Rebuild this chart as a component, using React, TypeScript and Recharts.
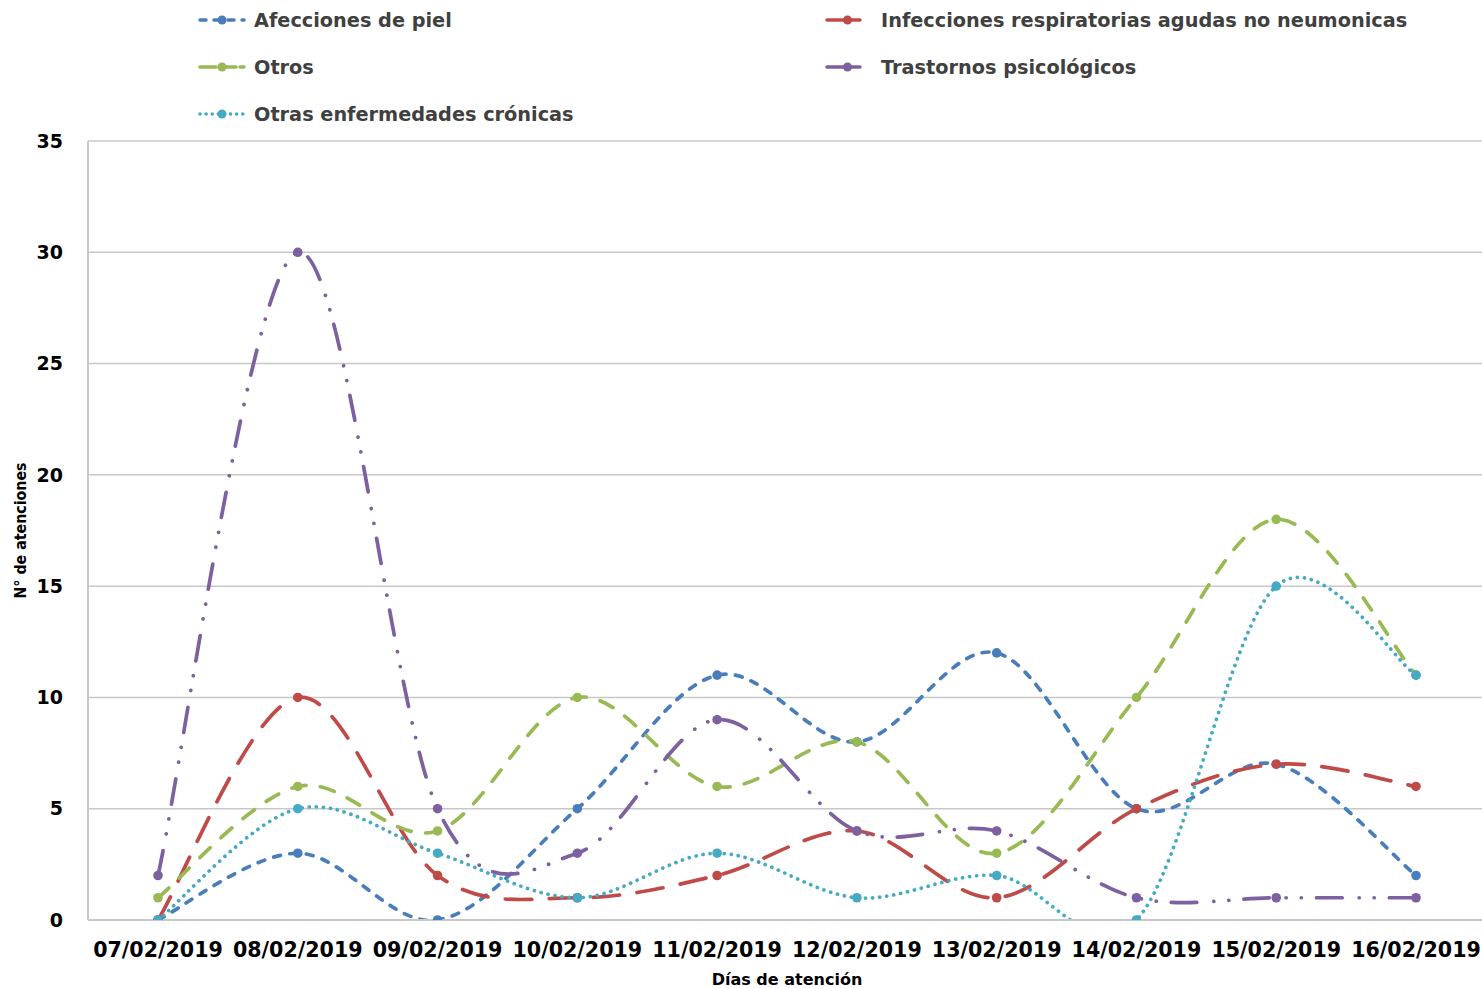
import React from 'react';
import { LineChart, Line, XAxis, YAxis, CartesianGrid, Legend } from 'recharts';

const dates = ['07/02/2019', '08/02/2019', '09/02/2019', '10/02/2019', '11/02/2019', '12/02/2019', '13/02/2019', '14/02/2019', '15/02/2019', '16/02/2019'];
const afeccionesPiel = [0, 3, 0, 5, 11, 8, 12, 5, 7, 2];
const infeccionesResp = [0, 10, 2, 1, 2, 4, 1, 5, 7, 6];
const otros = [1, 6, 4, 10, 6, 8, 3, 10, 18, 11];
const trastornosPsic = [2, 30, 5, 3, 9, 4, 4, 1, 1, 1];
const otrasCronicas = [0, 5, 3, 1, 3, 1, 2, 0, 15, 11];
const yTicks = [0, 5, 10, 15, 20, 25, 30, 35];

const data = dates.map((d, i) => ({
  date: d,
  afecciones: afeccionesPiel[i],
  infecciones: infeccionesResp[i],
  otros: otros[i],
  trastornos: trastornosPsic[i],
  cronicas: otrasCronicas[i],
}));

const SERIES = [
  { key: 'afecciones', name: 'Afecciones de piel', color: '#4A7EBB', dash: '7 9.5', legendDash: '6 8', solidLegend: false },
  { key: 'infecciones', name: 'Infecciones respiratorias agudas no neumonicas', color: '#BE4B48', dash: '26.5 17.5', legendDash: '', solidLegend: true },
  { key: 'otros', name: 'Otros', color: '#98B954', dash: '14.5 14.5', legendDash: '16 4', solidLegend: false },
  { key: 'trastornos', name: 'Trastornos psicológicos', color: '#7D60A0', dash: '25.5 17 0.1 15 0.1 15', legendDash: '', solidLegend: true },
  { key: 'cronicas', name: 'Otras enfermedades crónicas', color: '#46AAC5', dash: '0.1 7', legendDash: '0.1 6', solidLegend: false },
];

// Excel-like smoothed line (Catmull-Rom style Bezier)
function excelSmooth(context: any) {
  let pts: number[][] = [];
  return {
    areaStart() {},
    areaEnd() {},
    lineStart() {
      pts = [];
    },
    lineEnd() {
      const n = pts.length;
      if (n === 0) return;
      context.moveTo(pts[0][0], pts[0][1]);
      for (let i = 0; i < n - 1; i++) {
        const p0 = pts[Math.max(i - 1, 0)];
        const p1 = pts[i];
        const p2 = pts[i + 1];
        const p3 = pts[Math.min(i + 2, n - 1)];
        const t = 1 / 6;
        context.bezierCurveTo(
          p1[0] + (p2[0] - p0[0]) * t,
          p1[1] + (p2[1] - p0[1]) * t,
          p2[0] - (p3[0] - p1[0]) * t,
          p2[1] - (p3[1] - p1[1]) * t,
          p2[0],
          p2[1]
        );
      }
    },
    point(x: number, y: number) {
      pts.push([+x, +y]);
    },
  };
}

const FONT = '"DejaVu Sans", Verdana, sans-serif';

const legendPos = [
  { iconX: 198, iconW: 48, textX: 254, y: 20 },
  { iconX: 825, iconW: 37, textX: 881, y: 20 },
  { iconX: 198, iconW: 48, textX: 254, y: 67 },
  { iconX: 825, iconW: 37, textX: 881, y: 67 },
  { iconX: 198, iconW: 48, textX: 254, y: 114 },
];

const LegendContent = () => (
  <div style={{ position: 'relative', width: 1490, height: 140 }}>
    {SERIES.map((s, i) => {
      const p = legendPos[i];
      return (
        <div key={s.key}>
          <svg
            style={{ position: 'absolute', left: p.iconX, top: p.y - 8 }}
            width={p.iconW}
            height={16}
          >
            <line
              x1={2}
              y1={8}
              x2={p.iconW - 2}
              y2={8}
              stroke={s.color}
              strokeWidth={3.5}
              strokeLinecap="round"
              strokeDasharray={s.solidLegend ? undefined : s.legendDash}
            />
            <circle cx={p.iconW / 2 + (s.solidLegend ? 4 : 0)} cy={8} r={4.5} fill={s.color} />
          </svg>
          <span
            style={{
              position: 'absolute',
              left: p.textX,
              top: p.y - 12,
              lineHeight: '26px',
              fontFamily: FONT,
              fontWeight: 'bold',
              fontSize: 19.3,
              color: '#404040',
              whiteSpace: 'nowrap',
            }}
          >
            {s.name}
          </span>
        </div>
      );
    })}
  </div>
);

const makeDot = (color: string) => (props: any) => {
  const { cx, cy, index } = props;
  if (cx == null || cy == null) return <g key={`d-${index}`} />;
  return <circle key={`d-${index}`} cx={cx} cy={cy} r={4.8} fill={color} />;
};

export default function App() {
  return (
    <div style={{ position: 'absolute', left: 0, top: 0, width: 1490, height: 988, background: '#fff' }}>
      <style>{'body{margin:0;overflow:hidden;background:#fff}'}</style>
      <LineChart width={1490} height={988} data={data} margin={{ top: 141, right: 4, bottom: 0, left: 0 }}>
        <CartesianGrid vertical={false} stroke="#c8c8c8" strokeWidth={1.5} />
        <XAxis
          dataKey="date"
          interval={0}
          padding={{ left: 70, right: 70 }}
          height={68}
          axisLine={{ stroke: '#c8c8c8', strokeWidth: 2 }}
          tickLine={false}
          tickSize={0}
          tickMargin={22}
          tick={{ fill: '#000', fontFamily: FONT, fontWeight: 'bold', fontSize: 20.6 }}
          label={{
            value: 'Días de atención',
            position: 'insideBottom',
            offset: 3,
            style: { fill: '#000', fontFamily: FONT, fontWeight: 'bold', fontSize: 16 },
          }}
        />
        <YAxis
          width={88}
          domain={[0, 35]}
          ticks={yTicks}
          allowDataOverflow
          axisLine={{ stroke: '#c8c8c8', strokeWidth: 2 }}
          tickLine={false}
          tickSize={0}
          tickMargin={25}
          tick={{ fill: '#000', fontFamily: FONT, fontWeight: 'bold', fontSize: 19 }}
          label={{
            value: 'N° de atenciones',
            angle: -90,
            position: 'insideLeft',
            offset: 20,
            style: {
              fill: '#000',
              fontFamily: '"DejaVu Sans Condensed", "DejaVu Sans", sans-serif',
              fontWeight: 'bold',
              fontSize: 15.8,
              textAnchor: 'middle',
            },
          }}
        />
        <Legend
          layout="horizontal"
          verticalAlign="middle"
          align="center"
          wrapperStyle={{ top: 0, left: 0, width: 1490, height: 140 }}
          content={() => <LegendContent />}
        />
        {SERIES.map((s) => (
          <Line
            key={s.key}
            dataKey={s.key}
            name={s.name}
            type={excelSmooth as any}
            stroke={s.color}
            strokeWidth={3.7}
            strokeDasharray={s.dash}
            strokeLinecap="round"
            dot={makeDot(s.color)}
            activeDot={false}
            isAnimationActive={false}
          />
        ))}
      </LineChart>
    </div>
  );
}
